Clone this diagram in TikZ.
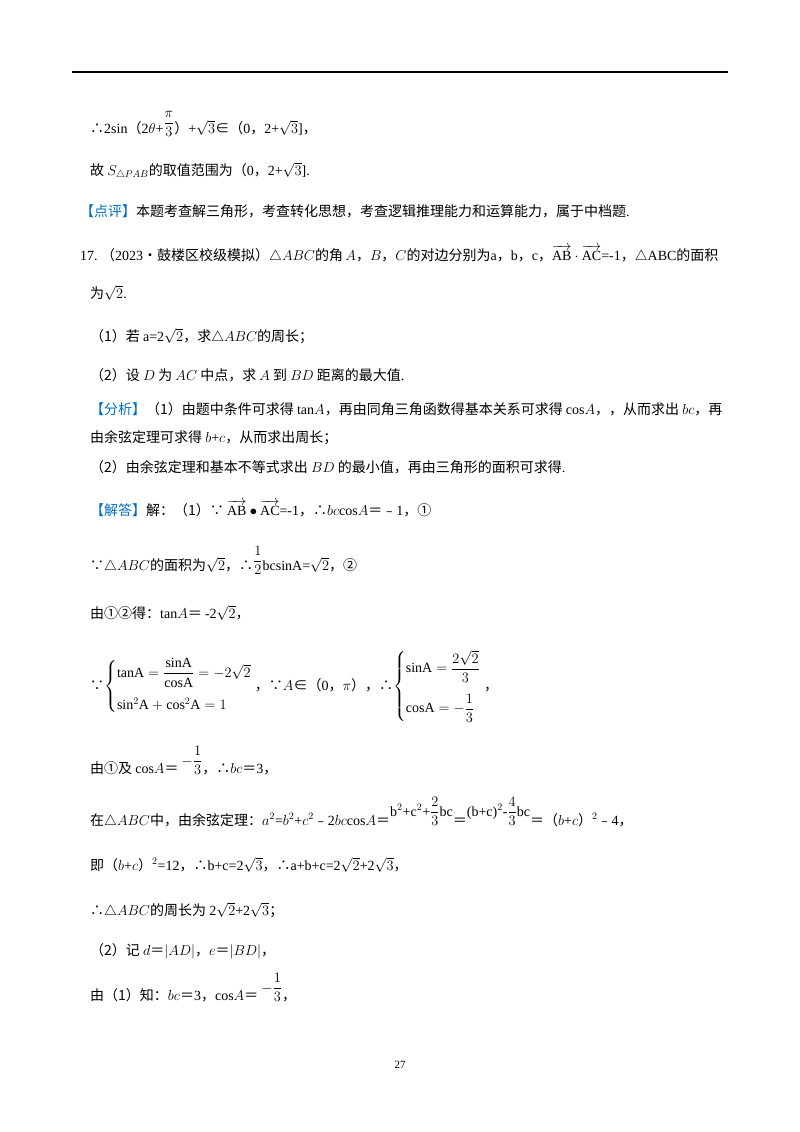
\documentclass[tikz,border=0pt]{standalone}
\usepackage{amsmath}
\usepackage{fontspec}
\setmainfont{Liberation Serif}
\newfontfamily\cjk{Noto Sans CJK SC}
\newcommand\z[1]{{\cjk #1}}
\definecolor{tagblue}{RGB}{0,112,192}
\newcommand\tg[1]{\textcolor{tagblue}{\z{#1}}}
\begin{document}
\begin{tikzpicture}[x=1pt,y=-1pt,
  ln/.style={anchor=base west,inner sep=0pt,font=\fontsize{14}{16}\selectfont}]
\useasboundingbox (0,0) rectangle (800,1132);
\draw[line width=1.2pt] (72,72) -- (728,72);
\node[ln] (l1) at (90,133) {\z{∴}2sin\z{（}2$\theta$+\raisebox{6pt}{$\dfrac{\pi}{3}$}\z{）}+$\sqrt{3}$\z{∈（}0\z{，}2+$\sqrt{3}$]\z{，}};
\node[ln] (l2) at (90,175) {\z{故 }$S_{\triangle PAB}$\z{的取值范围为（}0\z{，}2+$\sqrt{3}$].};
\node[ln] (l3) at (80,216) {\tg{【点评】}\z{本题考查解三角形，考查转化思想，考查逻辑推理能力和运算能力，属于中档题}.};
\node[ln] (l4) at (80,260) {17.\ \z{（}2023\z{•鼓楼区校级模拟）}$\triangle ABC$\z{的角}\,$A$\z{，}$B$\z{，}$C$\z{的对边分别为}a\z{，}b\z{，}c\z{，}$\overrightarrow{\mathrm{AB}}\cdot\overrightarrow{\mathrm{AC}}$=-1\z{，}$\triangle$ABC\z{的面积}};
\node[ln] (l5) at (90,298) {\z{为}$\sqrt{2}$.};
\node[ln] (l6) at (90,341) {\z{（1）若 }a=2$\sqrt{2}$\z{，求}$\triangle ABC$\z{的周长；}};
\node[ln] (l7) at (90,380) {\z{（2）设 }$D$\z{ 为 }$AC$\z{ 中点，求 }$A$\z{ 到 }$BD$\z{ 距离的最大值}.};
\node[ln] (l8) at (90,414) {\tg{【分析】}\z{（1）由题中条件可求得 }tan$A$\z{，再由同角三角函数得基本关系可求得 }cos$A$\z{，，从而求出 }$bc$\z{，再}};
\node[ln] (l9) at (90,442) {\z{由余弦定理可求得 }$b$+$c$\z{，从而求出周长；}};
\node[ln] (l10) at (90,472) {\z{（2）由余弦定理和基本不等式求出 }$BD$\z{ 的最小值，再由三角形的面积可求得}.};
\node[ln] (l11) at (90,515) {\tg{【解答】}\z{解：（1）∵ }$\overrightarrow{\mathrm{AB}}\bullet\overrightarrow{\mathrm{AC}}$=-1\z{，∴}$bc$cos$A$\z{＝﹣}1\z{，①}};
\node[ln] (l12) at (90,570) {\z{∵}$\triangle ABC$\z{的面积为}$\sqrt{2}$\z{，∴}\raisebox{5pt}{$\dfrac{1}{2}$}bcsinA=$\sqrt{2}$\z{，②}};
\node[ln] (l13) at (90,618) {\z{由①②得：}tan$A$\z{＝ }-2$\sqrt{2}$\z{，}};
\node[ln] (l14) at (90,690) {\z{∵}$\left\{\begin{array}{@{}l@{}}\mathrm{tanA}=\dfrac{\mathrm{sinA}}{\mathrm{cosA}}=-2\sqrt{2}\\[16pt] \sin^2\!\mathrm{A}+\cos^2\!\mathrm{A}=1\end{array}\right.$\z{ ，∵}$A$\z{∈（}0\z{，}$\pi$\z{），∴}$\left\{\begin{array}{@{}l@{}}\mathrm{sinA}=\dfrac{2\sqrt{2}}{3}\\[16pt] \mathrm{cosA}=-\dfrac{1}{3}\end{array}\right.$\z{ ，}};
\node[ln] (l15) at (90,773) {\z{由①及 }cos$A$\z{＝ }\raisebox{8pt}{$-\dfrac{1}{3}$}\z{，∴}$bc$\z{＝}3\z{，}};
\node[ln] (l16) at (90,825) {\z{在}$\triangle ABC$\z{中，由余弦定理：}$a^2$=$b^2$+$c^2$\z{﹣}2$bc$cos$A$\z{＝}\raisebox{9pt}{b$^2$+c$^2$+$\dfrac{2}{3}$bc}\z{＝}\raisebox{9pt}{(b+c)$^2$-$\dfrac{4}{3}$bc}\z{＝（}$b$+$c$\z{）}$^2$\z{﹣}4\z{，}};
\node[ln] (l17) at (90,870) {\z{即（}$b$+$c$\z{）}$^2$=12\z{，∴}b+c=2$\sqrt{3}$\z{，∴}a+b+c=2$\sqrt{2}$+2$\sqrt{3}$\z{，}};
\node[ln] (l18) at (90,915) {\z{∴}$\triangle ABC$\z{的周长为 }2$\sqrt{2}$+2$\sqrt{3}$\z{；}};
\node[ln] (l19) at (90,955) {\z{（2）记 }$d$\z{＝}$|AD|$\z{，}$e$\z{＝}$|BD|$\z{，}};
\node[ln] (l20) at (90,1000) {\z{由（1）知：}$bc$\z{＝}3\z{，}cos$A$\z{＝ }\raisebox{8pt}{$-\dfrac{1}{3}$}\z{，}};
\node[anchor=base,inner sep=0pt,font=\fontsize{11}{13}\selectfont] (pg) at (400,1068) {27};
\end{tikzpicture}
\end{document}
